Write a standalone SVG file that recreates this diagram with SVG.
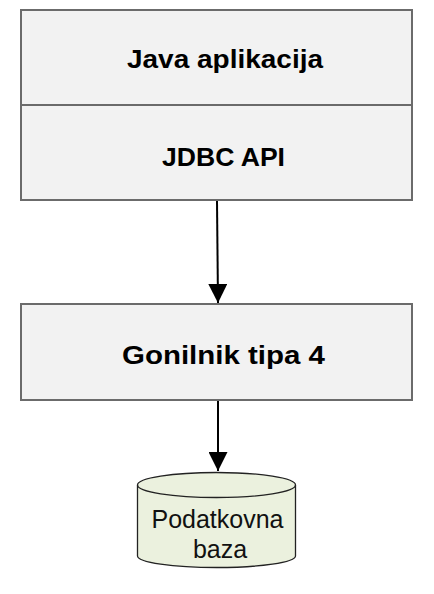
<svg xmlns="http://www.w3.org/2000/svg" width="434" height="594" viewBox="0 0 434 594">
<style>
.box{fill:#f2f2f2;stroke:#6b6b6b;stroke-width:2}
.lbl{font-family:"Liberation Sans",Arial,sans-serif;font-weight:bold;font-size:25px;fill:#000;text-anchor:middle}
.db{font-family:"Liberation Sans",Arial,sans-serif;font-size:25px;fill:#111;text-anchor:middle}
.conn{stroke:#000;stroke-width:2;fill:none}
</style>
<defs>
<marker id="arr" markerUnits="userSpaceOnUse" markerWidth="20" markerHeight="19" refX="19" refY="9.5" orient="auto">
<path d="M0,0 L19,9.5 L0,19 Z" fill="#000"/>
</marker>
</defs>
<g id="java">
<rect class="box" x="21" y="10" width="391" height="95"/>
<text class="lbl" x="225" y="68" textLength="196" lengthAdjust="spacingAndGlyphs">Java aplikacija</text>
</g>
<g id="jdbc">
<rect class="box" x="21" y="105" width="391" height="95"/>
<text class="lbl" x="223.5" y="166" textLength="123" lengthAdjust="spacingAndGlyphs">JDBC API</text>
</g>
<g id="gonilnik">
<rect class="box" x="21" y="304" width="391" height="96"/>
<text class="lbl" x="223.5" y="364" textLength="203" lengthAdjust="spacingAndGlyphs">Gonilnik tipa 4</text>
</g>
<g id="baza">
<path d="M137.5,485 L137.5,556 A79,11.5 0 0 0 295.5,556 L295.5,485 A79,12.5 0 0 0 137.5,485 Z" fill="#ebf1de" stroke="#222" stroke-width="1.3"/>
<path d="M137.5,485 A79,12.5 0 0 0 295.5,485" fill="none" stroke="#222" stroke-width="1.3"/>
<text class="db" x="217.5" y="528">Podatkovna</text>
<text class="db" x="220" y="558">baza</text>
</g>
<g id="connectors">
<line class="conn" x1="217" y1="201" x2="218" y2="303" marker-end="url(#arr)"/>
<line class="conn" x1="218" y1="401" x2="218" y2="471" marker-end="url(#arr)"/>
</g>
</svg>
